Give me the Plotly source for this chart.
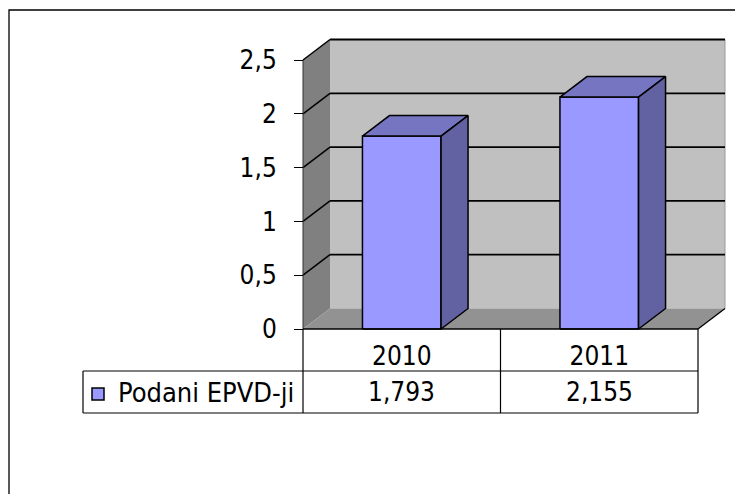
import plotly.graph_objects as go

# data
years = ["2010", "2011"]
podani = [1.793, 2.155]
series_name = "Podani EPVD-ji"
y_ticks = [0, 0.5, 1, 1.5, 2, 2.5]

# colours (Excel 2003 style 3D column)
FRONT = "#9999FF"
TOP = "#7575C2"
SIDE = "#6262A2"
BACK_WALL = "#C0C0C0"
SIDE_WALL = "#808080"
FLOOR = "#929292"
FONT = "DejaVu Sans Condensed"

# pixel geometry of the page -> axis units
W, H = 743, 494
OFF = 8                        # default body margin of the html page
X0_PX, CAT_PX = 303, 197.5     # front-left corner of plot, width of one category
Y0_PX, UNIT_PX = 329, 107.6    # baseline, pixels per 1.0


def u(px):
    return (px - X0_PX) / CAT_PX - 0.5


def v(py):
    return (Y0_PX - py) / UNIT_PX


DX = 27 / CAT_PX
DY = 20.5 / UNIT_PX
HALF = 0.199
YMAX = y_ticks[-1]
XL, XR = -0.5, len(years) - 0.5

fig = go.Figure()
shapes = []


def poly(pts, fill, line="black", width=0, layer="below"):
    d = "M " + " L ".join(f"{a},{b}" for a, b in pts) + " Z"
    shapes.append(dict(type="path", path=d, xref="x", yref="y", fillcolor=fill,
                       line=dict(color=line, width=width), layer=layer))


def seg(x0, y0, x1, y1, color="black", width=1.3, layer="below"):
    shapes.append(dict(type="line", x0=x0, y0=y0, x1=x1, y1=y1, xref="x", yref="y",
                       line=dict(color=color, width=width), layer=layer))


# walls and floor
poly([(XL + DX, DY), (XR + DX, DY), (XR + DX, YMAX + DY), (XL + DX, YMAX + DY)], BACK_WALL)
poly([(XL, 0), (XL + DX, DY), (XL + DX, YMAX + DY), (XL, YMAX)], SIDE_WALL)
poly([(XL, 0), (XL + DX, DY), (XR + DX, DY), (XR, 0)], FLOOR)
seg(XR + DX, DY, XR + DX, YMAX + DY, color="#9a9a9a", width=1)
for t in y_ticks[1:]:
    seg(XL, t, XL + DX, t + DY, width=1.5)
    seg(XL + DX, t + DY, XR + DX, t + DY, width=1.8)
seg(XL, 0, XL, YMAX, color="#333333", width=1)
seg(XR, 0, XR + DX, DY, width=1.3)

# 3D bars: front, top and right side faces
for i, val in enumerate(podani):
    l, r = i - HALF, i + HALF
    fig.add_trace(go.Scatter(x=[l, r, r, l, l], y=[0, 0, val, val, 0], fill="toself",
                             fillcolor=FRONT, mode="lines", line=dict(color="black", width=1.5),
                             hoverinfo="skip", showlegend=False))
    fig.add_trace(go.Scatter(x=[l, l + DX, r + DX, r, l], y=[val, val + DY, val + DY, val, val],
                             fill="toself", fillcolor=TOP, mode="lines",
                             line=dict(color="black", width=1.5), hoverinfo="skip", showlegend=False))
    fig.add_trace(go.Scatter(x=[r, r + DX, r + DX, r, r], y=[0, DY, val + DY, val, 0],
                             fill="toself", fillcolor=SIDE, mode="lines",
                             line=dict(color="black", width=1.5), hoverinfo="skip", showlegend=False))

# data table
ROW1, ROW2 = v(371), v(413)
TL = u(83)
seg(XL, 0, XR, 0, width=1.3, layer="above")
for k in range(len(years) + 1):
    seg(XL + k, 0, XL + k, ROW2, width=1.2, layer="above")
seg(TL, ROW1, XR, ROW1, width=1.2, layer="above")
seg(TL, ROW2, XR, ROW2, width=1.2, layer="above")
seg(TL, ROW1, TL, ROW2, width=1.2, layer="above")
shapes.append(dict(type="rect", x0=u(92), x1=u(104), y0=v(400), y1=v(388), xref="x", yref="y",
                   fillcolor=FRONT, line=dict(color="black", width=1.5), layer="above"))

annotations = [dict(x=u(116), y=(ROW1 + ROW2) / 2, text=series_name, showarrow=False,
                    xanchor="left", yanchor="middle", font=dict(size=27, color="black", family=FONT))]
for i, val in enumerate(podani):
    annotations.append(dict(x=i, y=(ROW1 + ROW2) / 2, text=f"{val:.3f}".replace(".", ","),
                            showarrow=False, xanchor="center", yanchor="middle",
                            font=dict(size=26, color="black", family=FONT)))

# outer chart frame
shapes.append(dict(type="rect", xref="paper", yref="paper", x0=(9 - OFF) / W, x1=1.05, y0=-0.05,
                   y1=1 - (10 - OFF) / H, line=dict(color="black", width=1.3), layer="above"))

fig.update_layout(
    width=W, height=H,
    margin=dict(l=0, r=0, t=0, b=0),
    paper_bgcolor="white", plot_bgcolor="white",
    separators=", ",
    showlegend=False,
    shapes=shapes,
    annotations=annotations,
    font=dict(family=FONT, size=26, color="black"),
    xaxis=dict(range=[u(OFF), u(W + OFF)], tickvals=list(range(len(years))), ticktext=years,
               showgrid=False, zeroline=False, showline=False, ticks="",
               anchor="free", position=(H - (Y0_PX - OFF)) / H, ticklabelstandoff=9,
               tickfont=dict(size=26, family=FONT, color="black")),
    yaxis=dict(range=[v(H + OFF), v(OFF)], tickvals=y_ticks, showgrid=False, zeroline=False,
               showline=False, ticks="outside", ticklen=9, tickcolor="black", tickwidth=1,
               anchor="free", position=(X0_PX - OFF) / W, ticklabelstandoff=12,
               tickfont=dict(size=26, family=FONT, color="black")),
)

fig.write_html("out.html")
